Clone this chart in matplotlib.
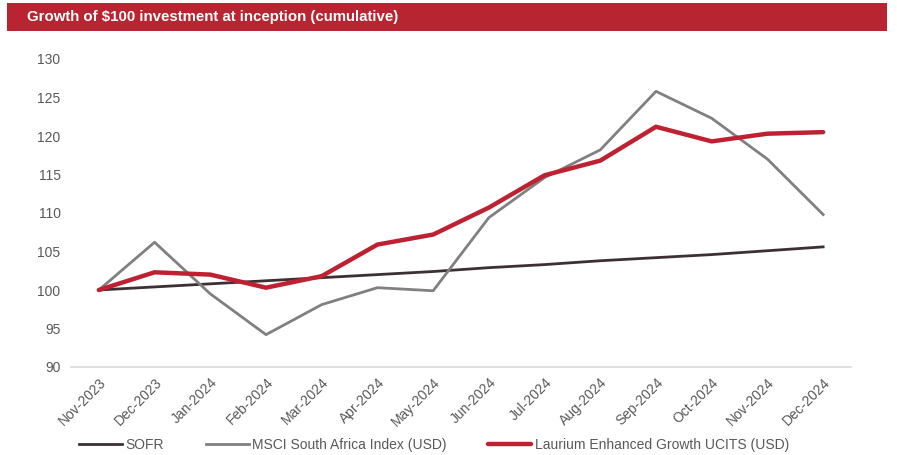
import matplotlib
matplotlib.use("Agg")
import matplotlib.pyplot as plt
from matplotlib.patches import Rectangle

plt.rcParams['font.family'] = ['Liberation Sans', 'DejaVu Sans']

months = ["Nov-2023", "Dec-2023", "Jan-2024", "Feb-2024", "Mar-2024", "Apr-2024", "May-2024",
          "Jun-2024", "Jul-2024", "Aug-2024", "Sep-2024", "Oct-2024", "Nov-2024", "Dec-2024"]
sofr = [100, 100.4, 100.8, 101.2, 101.6, 102.0, 102.4, 102.9, 103.3, 103.8, 104.2, 104.6, 105.1, 105.6]
msci = [100, 106.2, 99.5, 94.2, 98.1, 100.3, 99.9, 109.4, 114.6, 118.2, 125.8, 122.3, 117.0, 109.8]
laurium = [100, 102.3, 102.0, 100.3, 101.8, 105.9, 107.2, 110.7, 114.9, 116.8, 121.2, 119.3, 120.3, 120.5]
yticks = [90, 95, 100, 105, 110, 115, 120, 125, 130]

W, H = 897, 455
fig = plt.figure(figsize=(W / 100, H / 100), dpi=100)

# title bar
fig.patches.append(Rectangle((7 / W, 1 - 31 / H), 880 / W, 28 / H, transform=fig.transFigure,
                             facecolor="#B82430", edgecolor="none"))
fig.text(27 / W, 1 - 17 / H, "Growth of $100 investment at inception (cumulative)",
         color="white", fontsize=10.8, fontweight="bold", va="center", ha="left")

ax = fig.add_axes([71 / W, 1 - 367 / H, 780 / W, 308 / H])
x = range(len(months))
ax.plot(x, sofr, color="#3E3032", linewidth=2, label="SOFR")
ax.plot(x, msci, color="#808080", linewidth=2, label="MSCI South Africa Index (USD)")
ax.plot(x, laurium, color="#BE2232", linewidth=3.2, solid_capstyle="round",
        label="Laurium Enhanced Growth UCITS (USD)")

ax.set_xlim(-0.5, len(months) - 0.5)
ax.set_ylim(90, 130)
ax.set_yticks(yticks)
ax.set_xticks(list(x))
ax.set_xticklabels(months, rotation=45, ha="right", rotation_mode="anchor")
ax.tick_params(length=0, labelsize=10, labelcolor="#595959")
ax.tick_params(axis="y", pad=7.5)
ax.tick_params(axis="x", pad=6)
for s in ["top", "right", "left"]:
    ax.spines[s].set_visible(False)
ax.spines["bottom"].set_color("#D9D9D9")
ax.spines["bottom"].set_linewidth(1.2)

fig.legend(loc="center left", bbox_to_anchor=(79 / W, 1 - 445 / H), ncol=3, frameon=False,
           fontsize=10, handlelength=3.1, handletextpad=0.25, columnspacing=3.0,
           borderpad=0, borderaxespad=0, labelcolor="#595959")

fig.savefig("out.png", dpi=100)
